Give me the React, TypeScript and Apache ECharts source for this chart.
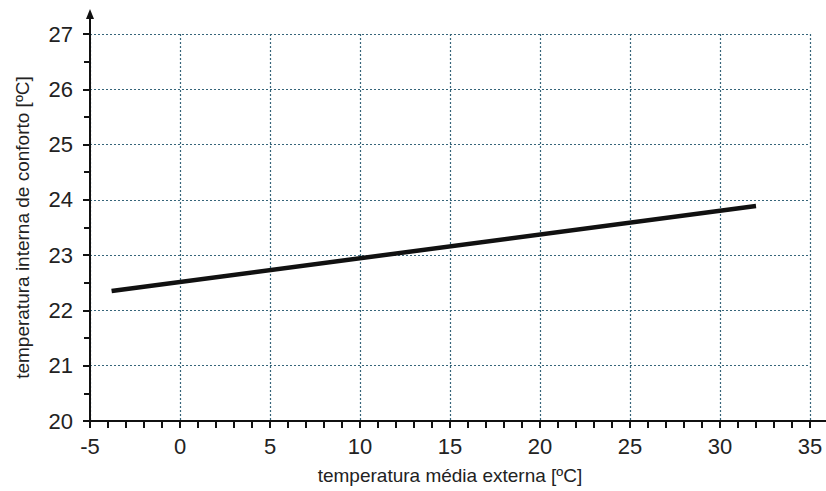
import React, { useEffect, useRef } from "react";
import * as echarts from "echarts";

const xTickValues = [-5, 0, 5, 10, 15, 20, 25, 30, 35];
const yTickValues = [20, 21, 22, 23, 24, 25, 26, 27];
const lineX = [-3.8, 32];
const lineY = [22.35, 23.89];
const xName = "temperatura média externa [ºC]";
const yName = "temperatura interna de conforto [ºC]";

export default function App() {
  const ref = useRef<HTMLDivElement>(null);
  useEffect(() => {
    document.body.style.margin = "0";
    const chart = echarts.init(ref.current!, null, { renderer: "svg" });
    const font = "'Liberation Sans', Arial, sans-serif";
    const gridColor = "#36657a";
    const axisColor = "#111";
    chart.setOption({
      animation: false,
      backgroundColor: "#ffffff",
      grid: { left: 90, right: 16, top: 34, bottom: 70, containLabel: false },
      xAxis: {
        type: "value",
        min: xTickValues[0],
        max: xTickValues[xTickValues.length - 1],
        interval: 5,
        name: xName,
        nameLocation: "middle",
        nameGap: 45,
        nameTextStyle: { fontFamily: font, fontSize: 19, color: "#222" },
        axisLine: { show: true, onZero: false, lineStyle: { color: axisColor, width: 2 } },
        axisTick: { show: true, inside: false, length: 7, lineStyle: { color: axisColor, width: 2 } },
        minorTick: { show: true, splitNumber: 5, length: 7, lineStyle: { color: axisColor, width: 2 } },
        axisLabel: { fontFamily: font, fontSize: 22, color: "#222", margin: 14 },
        splitLine: {
          show: true,
          lineStyle: { color: gridColor, width: 1.2, type: [2, 2] },
        },
      },
      yAxis: {
        type: "value",
        min: yTickValues[0],
        max: yTickValues[yTickValues.length - 1],
        interval: 1,
        name: yName,
        nameLocation: "middle",
        nameGap: 58,
        nameTextStyle: { fontFamily: font, fontSize: 19, color: "#222" },
        axisLine: { show: true, onZero: false, lineStyle: { color: axisColor, width: 2 } },
        axisTick: { show: true, inside: false, length: 7, lineStyle: { color: axisColor, width: 2 } },
        minorTick: { show: true, splitNumber: 2, length: 6, lineStyle: { color: axisColor, width: 2 } },
        axisLabel: { fontFamily: font, fontSize: 22, color: "#222", margin: 17 },
        splitLine: {
          show: true,
          lineStyle: { color: gridColor, width: 1.2, type: [2, 2] },
        },
      },
      series: [
        {
          type: "line",
          data: lineX.map((x, i) => [x, lineY[i]]),
          symbol: "none",
          lineStyle: { color: "#111", width: 4.5 },
          z: 5,
        },
      ],
    });
    const origin = chart.convertToPixel({ gridIndex: 0 }, [xTickValues[0], yTickValues[0]]) as number[];
    const top = chart.convertToPixel({ gridIndex: 0 }, [xTickValues[0], yTickValues[yTickValues.length - 1]]) as number[];
    const right = chart.convertToPixel({ gridIndex: 0 }, [xTickValues[xTickValues.length - 1], yTickValues[0]]) as number[];
    chart.setOption({
      graphic: [
        {
          type: "line",
          shape: { x1: right[0], y1: origin[1], x2: 826, y2: origin[1] },
          style: { stroke: axisColor, lineWidth: 2 },
          z: 10,
        },
        {
          type: "line",
          shape: { x1: origin[0], y1: top[1], x2: origin[0], y2: 16 },
          style: { stroke: axisColor, lineWidth: 2 },
          z: 10,
        },
        {
          type: "polygon",
          shape: {
            points: [
              [origin[0] - 4, 19],
              [origin[0], 9],
              [origin[0] + 4, 19],
            ],
          },
          style: { fill: axisColor },
          z: 10,
        },
      ],
    });
    return () => chart.dispose();
  }, []);
  return <div ref={ref} style={{ width: 826, height: 491 }} />;
}
